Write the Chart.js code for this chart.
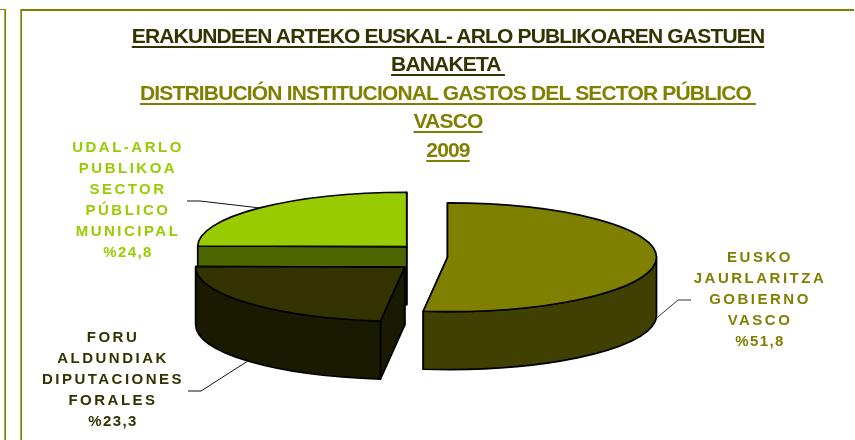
<!DOCTYPE html>
<html>
<head>
<meta charset="utf-8">
<style>
html,body{margin:0;padding:0;background:#fff;width:855px;height:440px;overflow:hidden;font-family:"Liberation Sans",Arial,sans-serif;}
#wrap{position:relative;width:855px;height:440px;}
canvas{position:absolute;left:0;top:0;}
.rule{position:absolute;background:#808000;}
.rule.soft{background:#a6a64d;}
.t{position:absolute;left:0;width:896px;text-align:center;font-weight:bold;font-size:21px;line-height:28px;white-space:pre;letter-spacing:-0.83px;text-decoration:underline;text-decoration-thickness:2px;text-underline-offset:2.5px;}
.l{position:absolute;width:240px;text-align:center;font-weight:bold;font-size:15px;line-height:21px;letter-spacing:2.5px;white-space:pre;}
.l.pct{letter-spacing:1.4px;}
</style>
</head>
<body>
<div id="wrap"><canvas id="c" width="855" height="440"></canvas></div>
<script src="https://cdn.jsdelivr.net/npm/chart.js@4/dist/chart.umd.js"></script>
<script>
// ---- data ----
const categories = ["Eusko Jaurlaritza / Gobierno Vasco", "Foru Aldundiak / Diputaciones Forales", "Udal-arlo publikoa / Sector público municipal"];
const values = [51.8, 23.3, 24.8];
const topColors = ["#808000", "#333300", "#99cc00"];
const sideColors = ["#404000", "#1a1a00", "#4d6600"];
const explode = [0, 228, 232];

const titleLines = ["ERAKUNDEEN ARTEKO EUSKAL- ARLO PUBLIKOAREN GASTUEN", "BANAKETA ", "DISTRIBUCIÓN INSTITUCIONAL GASTOS DEL SECTOR PÚBLICO ", "VASCO", "2009"];
const titleColors = ["#333300", "#333300", "#808000", "#808000", "#808000"];
const labelLines0 = ["EUSKO", "JAURLARITZA", "GOBIERNO", "VASCO", "%51,8"];
const labelLines1 = ["FORU", "ALDUNDIAK", "DIPUTACIONES", "FORALES", "%23,3"];
const labelLines2 = ["UDAL-ARLO", "PUBLIKOA", "SECTOR", "PÚBLICO", "MUNICIPAL", "%24,8"];

// ---- layout / view ----
const view = {cx: 447.5, cy: 257.3, k: 0.26, depth: 58};
const leaders = [
  {elbow: [678, 300], end: [691, 300], bottom: true, color: "#333"},
  {elbow: [201, 391], end: [188, 391], bottom: true, color: "#111"},
  {elbow: [200, 201], end: [187, 201], bottom: false, color: "#111"}
];

const wrap = document.getElementById('wrap');
function rule(x, y, w, h, soft) {
  const d = document.createElement('div');
  d.className = 'rule' + (soft ? ' soft' : '');
  d.style.cssText = `left:${x}px;top:${y}px;width:${w}px;height:${h}px`;
  wrap.appendChild(d);
}
rule(0, 9, 5, 1); rule(20, 9, 834, 2);
rule(4, 9, 1, 431, true); rule(5, 9, 1, 431); rule(20, 9, 1, 431, true); rule(21, 9, 1, 431);

const titleCentres = [35.5, 64, 92.5, 121, 149.5];
titleLines.forEach((s, i) => {
  const d = document.createElement('div');
  d.className = 't';
  d.textContent = s;
  d.style.top = (titleCentres[i] - 14) + 'px';
  d.style.color = titleColors[i];
  wrap.appendChild(d);
});
function label(lines, cx, cy0, color) {
  lines.forEach((s, i) => {
    const d = document.createElement('div');
    d.className = 'l' + (s.startsWith('%') ? ' pct' : '');
    d.textContent = s;
    d.style.left = (cx - 120) + 'px';
    d.style.top = (cy0 + i * 21 - 10.5) + 'px';
    d.style.color = color;
    wrap.appendChild(d);
  });
}
label(labelLines0, 760, 256, "#808000");
label(labelLines1, 113, 336, "#333300");
label(labelLines2, 128, 146, "#99cc00");

// ---- 3D projection of the chart's own arc elements ----
function centre(arc) {
  const a = arc.getProps(['x', 'y', 'startAngle', 'endAngle', 'outerRadius'], true);
  const mid = (a.startAngle + a.endAngle) / 2;
  const off = (arc.options.offset || 0) / 4;
  return {
    x: view.cx + Math.cos(mid) * off,
    y: view.cy + Math.sin(mid) * off * view.k,
    r: a.outerRadius, s: a.startAngle, e: a.endAngle, mid
  };
}
const pt = (c, t, dz) => [c.x + c.r * Math.cos(t), c.y + c.r * view.k * Math.sin(t) + dz];

function strokeFill(ctx, fill) {
  ctx.fillStyle = fill; ctx.fill();
  ctx.strokeStyle = '#000'; ctx.lineWidth = 1.7; ctx.lineJoin = 'round'; ctx.stroke();
}
function radialFace(ctx, c, t, fill) {
  const p = pt(c, t, 0);
  ctx.beginPath();
  ctx.moveTo(c.x, c.y); ctx.lineTo(p[0], p[1]);
  ctx.lineTo(p[0], p[1] + view.depth); ctx.lineTo(c.x, c.y + view.depth);
  ctx.closePath();
  strokeFill(ctx, fill);
}
function wall(ctx, c, fill) {
  const a = Math.max(c.s, 0), b = Math.min(c.e, Math.PI);
  if (b <= a) return;
  ctx.beginPath();
  ctx.ellipse(c.x, c.y, c.r, c.r * view.k, 0, a, b);
  ctx.ellipse(c.x, c.y + view.depth, c.r, c.r * view.k, 0, b, a, true);
  ctx.closePath();
  strokeFill(ctx, fill);
}
const pie3d = {
  id: 'pie3d',
  beforeDatasetsDraw(chart) {
    const ctx = chart.ctx, arcs = chart.getDatasetMeta(0).data;
    [2, 0, 1].forEach(i => {
      const c = centre(arcs[i]);
      radialFace(ctx, c, c.e, sideColors[i]);
      radialFace(ctx, c, c.s, sideColors[i]);
      wall(ctx, c, sideColors[i]);
    });
    // the library paints the slice tops under a flattening transform
    ctx.save();
    ctx.translate(view.cx - arcs[0].x, view.cy - view.k * arcs[0].y);
    ctx.scale(1, view.k);
  },
  afterDatasetsDraw(chart) {
    const ctx = chart.ctx, arcs = chart.getDatasetMeta(0).data;
    ctx.restore();
    arcs.forEach(arc => {
      const c = centre(arc);
      ctx.beginPath();
      ctx.moveTo(c.x, c.y);
      ctx.ellipse(c.x, c.y, c.r, c.r * view.k, 0, c.s, c.e);
      ctx.closePath();
      ctx.strokeStyle = '#000'; ctx.lineWidth = 1.7; ctx.lineJoin = 'round'; ctx.stroke();
    });
    leaders.forEach((l, i) => {
      const c = centre(arcs[i]);
      const p = pt(c, c.mid, l.bottom ? view.depth : 0);
      ctx.beginPath();
      ctx.moveTo(p[0], p[1]); ctx.lineTo(l.elbow[0], l.elbow[1]); ctx.lineTo(l.end[0], l.end[1]);
      ctx.strokeStyle = l.color; ctx.lineWidth = 1; ctx.stroke();
    });
  }
};

new Chart(document.getElementById('c'), {
  type: 'pie',
  data: {
    labels: categories,
    datasets: [{
      data: values,
      backgroundColor: topColors,
      borderWidth: 0,
      offset: explode,
      clip: false
    }]
  },
  options: {
    responsive: false,
    animation: false,
    events: [],
    radius: 209,
    layout: {padding: 0},
    plugins: {legend: {display: false}, title: {display: false}, tooltip: {enabled: false}}
  },
  plugins: [pie3d]
});
</script>
</body>
</html>
